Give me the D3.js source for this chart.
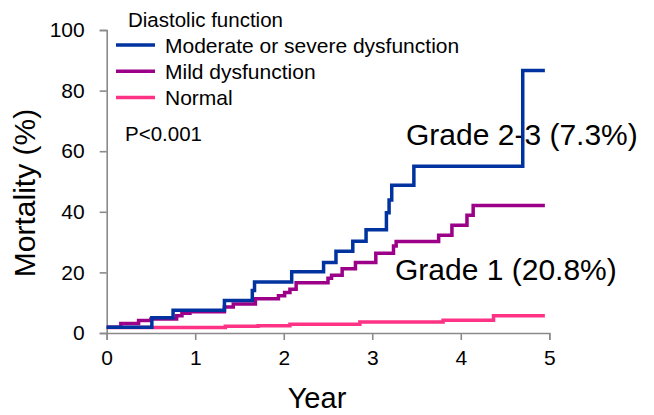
<!DOCTYPE html>
<html>
<head>
<meta charset="utf-8">
<script src="https://cdn.jsdelivr.net/npm/d3@7"></script>
<style>
  html, body { margin: 0; padding: 0; background: #fff; }
  svg { display: block; font-family: "Liberation Sans", Arial, sans-serif; }
</style>
</head>
<body>
<svg id="chart" width="654" height="415"></svg>
<script>
// Cumulative mortality (%) by diastolic function group, step curves
const seriesNames = ["Moderate or severe dysfunction", "Mild dysfunction", "Normal"];
const seriesColors = ["#0033a0", "#9c0088", "#ff3385"];

const severeYears = [0, 0.51, 0.75, 1.33, 1.645, 1.67, 2.09, 2.45, 2.59, 2.78, 2.93, 3.16, 3.19, 3.22, 3.47, 4.70, 4.95];
const severeMortality = [1.9, 5.0, 7.5, 10.7, 14.0, 16.8, 20.2, 23.3, 27.0, 30.3, 34.1, 39.7, 43.9, 48.8, 55.0, 86.6, 86.6];

const mildYears = [0, 0.16, 0.36, 0.50, 0.79, 0.85, 0.94, 1.33, 1.43, 1.68, 1.94, 2.01, 2.07, 2.14, 2.50, 2.54, 2.66, 2.81, 3.04, 3.24, 3.27, 3.75, 3.90, 4.07, 4.14, 4.95];
const mildMortality = [1.9, 3.1, 4.1, 4.6, 5.7, 6.5, 7.0, 8.6, 9.6, 11.3, 12.3, 13.4, 14.4, 16.6, 18.1, 19.1, 21.2, 23.3, 26.3, 28.7, 30.2, 32.3, 35.6, 38.9, 42.1, 42.1];

const normalYears = [0, 1.34, 1.71, 2.07, 2.86, 3.80, 4.37, 4.95];
const normalMortality = [1.8, 2.2, 2.4, 2.9, 3.6, 4.2, 5.7, 5.7];

const xTicks = [0, 1, 2, 3, 4, 5];
const yTicks = [0, 20, 40, 60, 80, 100];

const svg = d3.select("#chart");
const x = d3.scaleLinear().domain([0, 5]).range([106.7, 549.3]);
const y = d3.scaleLinear().domain([0, 100]).range([333, 30]);
const axisColor = "#8a8a8a";

// Axes
const xAxis = svg.append("g").attr("transform", `translate(0,${y(0)})`)
  .call(d3.axisBottom(x).tickValues(xTicks).tickSize(7).tickPadding(10).tickFormat(d3.format("d")));
const yAxis = svg.append("g").attr("transform", `translate(${x(0)},0)`)
  .call(d3.axisLeft(y).tickValues(yTicks).tickSize(7).tickPadding(15).tickFormat(d3.format("d")));
[xAxis, yAxis].forEach(g => {
  g.select(".domain").attr("stroke", axisColor).attr("stroke-width", 1.6);
  g.selectAll(".tick line").attr("stroke", axisColor).attr("stroke-width", 1.6);
  g.selectAll(".tick text").attr("fill", "#000").style("font-size", "21px")
    .style("font-family", "'Liberation Sans', Arial, sans-serif");
});

// Axis titles
svg.append("text").attr("x", 317).attr("y", 408).attr("text-anchor", "middle")
  .style("font-size", "29px").text("Year");
svg.append("text").attr("transform", "translate(35,193) rotate(-90)")
  .attr("text-anchor", "middle").style("font-size", "30px").text("Mortality (%)");

// Group annotations
svg.append("text").attr("x", 406).attr("y", 145).style("font-size", "30px").text("Grade 2-3 (7.3%)");
svg.append("text").attr("x", 395).attr("y", 280).style("font-size", "30px").text("Grade 1 (20.8%)");

// P value
svg.append("text").attr("x", 125).attr("y", 141).style("font-size", "20.5px").text("P<0.001");

// Legend
svg.append("text").attr("x", 128).attr("y", 27).style("font-size", "20.5px").text("Diastolic function");
const legend = svg.append("g");
seriesNames.forEach((name, i) => {
  const ly = 45 + i * 26.3;
  legend.append("line").attr("x1", 116).attr("x2", 155).attr("y1", ly).attr("y2", ly)
    .attr("stroke", seriesColors[i]).attr("stroke-width", 3.5);
  legend.append("text").attr("x", 165).attr("y", ly + 7.5).style("font-size", "21px").text(name);
});

// Step curves (normal first, severe on top)
const series = [
  { years: normalYears, values: normalMortality, color: seriesColors[2] },
  { years: mildYears, values: mildMortality, color: seriesColors[1] },
  { years: severeYears, values: severeMortality, color: seriesColors[0] }
];
const line = d3.line().x(d => x(d[0])).y(d => y(d[1])).curve(d3.curveStepAfter);
series.forEach(s => {
  svg.append("path")
    .datum(s.years.map((t, i) => [t, s.values[i]]))
    .attr("d", line)
    .attr("fill", "none")
    .attr("stroke", s.color)
    .attr("stroke-width", 3.5)
    .attr("stroke-linejoin", "miter");
});
</script>
</body>
</html>
